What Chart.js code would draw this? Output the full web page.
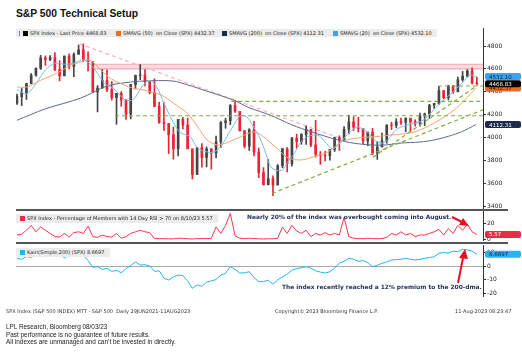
<!DOCTYPE html>
<html lang="en">
<head>
<meta charset="UTF-8" />
<title>S&amp;P 500 Technical Setup</title>
<script src="https://cdn.jsdelivr.net/npm/chart.js"></script>
<style>
  body { margin: 0; width: 522px; height: 360px; position: relative; overflow: hidden; background: #fff; font-family: "DejaVu Sans", sans-serif; color: #222; }
  .t { position: absolute; white-space: nowrap; line-height: 1; }
  canvas { position: absolute; left: 16px; }
  .box { position: absolute; background: #ececec; }
  .sq { position: absolute; width: 5px; height: 5px; }
  .lg { position: absolute; white-space: nowrap; line-height: 1; font-size: 5px; color: #222; }
  .sep { position: absolute; left: 16px; width: 492px; height: 2px; background: #555; }
  .note { position: absolute; white-space: nowrap; line-height: 1; font: bold 5.9px "DejaVu Sans", sans-serif; color: #1f2d55; }
  .foot { position: absolute; white-space: nowrap; line-height: 1; font-size: 5px; color: #333; }
  .src { position: absolute; white-space: nowrap; line-height: 1; font: 6.4px "Liberation Sans", sans-serif; color: #222; }
</style>
</head>
<body>
<div class="t" style="left:16px;top:8px;font:bold 10.3px 'Liberation Sans',sans-serif;color:#111">S&amp;P 500 Technical Setup</div>

<canvas id="mainChart" width="506" height="181" style="top:28px"></canvas>
<canvas id="rsiChart" width="506" height="30" style="top:211px"></canvas>
<canvas id="kairiChart" width="506" height="67" style="top:245px"></canvas>

<div class="sep" style="top:209px"></div>
<div class="sep" style="top:242px"></div>

<!-- main legend -->
<div class="box" style="left:16px;top:29px;width:421px;height:8px"></div>
<div class="sq" style="left:19px;top:30.5px;width:1px;background:#888"></div>
<div class="sq" style="left:23px;top:30.5px;background:#000"></div>
<div class="lg" style="left:30px;top:30.5px">SPX Index - Last Price 4468.83</div>
<div class="sq" style="left:116px;top:30.5px;background:#f26b1d"></div>
<div class="lg" style="left:123px;top:30.5px">SMAVG (50)&nbsp; on Close (SPX) 4432.37</div>
<div class="sq" style="left:222px;top:30.5px;background:#1c2a4f"></div>
<div class="lg" style="left:229px;top:30.5px">SMAVG (200)&nbsp; on Close (SPX) 4112.31</div>
<div class="sq" style="left:333px;top:30.5px;background:#3ea2ea"></div>
<div class="lg" style="left:340px;top:30.5px">SMAVG (20)&nbsp; on Close (SPX) 4532.10</div>

<!-- rsi legend -->
<div class="box" style="left:16px;top:214px;width:202px;height:9px"></div>
<div class="sq" style="left:20px;top:216px;background:#ee2b45"></div>
<div class="lg" style="left:27px;top:216px">SPX Index - Percentage of Members with 14 Day RSI &gt; 70 on 8/10/23 5.57</div>
<div class="note" style="left:247px;top:214px">Nearly 20% of the index was overbought coming into August.</div>

<!-- kairi legend -->
<div class="box" style="left:16px;top:248px;width:94px;height:9px"></div>
<div class="sq" style="left:20px;top:250px;background:#22b5f2"></div>
<div class="lg" style="left:27px;top:250px">Kairi(Simple,200) (SPX) 8.6697</div>
<div class="note" style="left:282px;top:284px">The index recently reached a 12% premium to the 200-dma.</div>

<svg width="522" height="360" style="position:absolute;left:0;top:0;pointer-events:none">
  <line x1="452" y1="217" x2="462" y2="222" stroke="#e8101e" stroke-width="2" />
  <polygon points="469,226 459,225 463,218" fill="#e8101e" />
  <line x1="458" y1="283" x2="463" y2="258" stroke="#e8101e" stroke-width="2" />
  <polygon points="465,249 459,258 468,259" fill="#e8101e" />
</svg>

<div class="foot" style="left:6px;top:309px">SPX Index (S&amp;P 500 INDEX) MTT - S&amp;P 500&nbsp; Daily 29JUN2021-11AUG2023</div>
<div class="foot" style="left:275px;top:309px">Copyright© 2023 Bloomberg Finance L.P.</div>
<div class="foot" style="left:455px;top:309px">11-Aug-2023 08:23:47</div>

<div class="src" style="left:6px;top:323px">LPL Research, Bloomberg 08/03/23</div>
<div class="src" style="left:6px;top:330.5px">Past performance is no guarantee of future results.</div>
<div class="src" style="left:6px;top:338px">All indexes are unmanaged and can’t be invested in directly.</div>

<script>
    // weekly bars, week 0 = week ending 1 Oct 2021, week 97 = 10 Aug 2023
    const weekHigh = [4380, 4429, 4475, 4559, 4608, 4718, 4714, 4717, 4743, 4672,
        4713, 4731, 4740, 4808, 4819, 4749, 4664, 4453, 4595, 4591,
        4490, 4385, 4402, 4331, 4465, 4546, 4637, 4593, 4471, 4513,
        4308, 4307, 4082, 4091, 4158, 4177, 4169, 3837, 3913, 3946,
        3918, 3904, 4013, 4140, 4167, 4288, 4325, 4203, 4062, 4077,
        4140, 3908, 3736, 3807, 3664, 3762, 3906, 3912, 4001, 4028,
        4034, 4101, 4052, 4150, 3877, 3878, 3893, 4003, 4015, 4094,
        4195, 4182, 4176, 4066, 4048, 4079, 3964, 4039, 4110, 4133,
        4164, 4169, 4170, 4167, 4155, 4213, 4213, 4290, 4299, 4448,
        4409, 4458, 4456, 4528, 4578, 4594, 4608, 4528];
    const weekLow = [4288, 4279, 4332, 4469, 4537, 4595, 4630, 4672, 4585, 4495,
        4540, 4600, 4531, 4733, 4662, 4582, 4395, 4223, 4432, 4401,
        4327, 4115, 4273, 4157, 4162, 4424, 4506, 4450, 4381, 4268,
        4124, 4062, 3859, 3810, 3838, 4074, 3900, 3637, 3705, 3739,
        3742, 3722, 3821, 3912, 4080, 4112, 4219, 4057, 3907, 3886,
        3838, 3648, 3584, 3585, 3491, 3647, 3735, 3698, 3749, 3906,
        3940, 3938, 3919, 3828, 3765, 3794, 3802, 3877, 3886, 3968,
        4031, 4060, 4048, 3944, 3928, 3847, 3808, 3918, 3949, 4069,
        4086, 4113, 4049, 4048, 4099, 4098, 4103, 4166, 4253, 4288,
        4337, 4328, 4385, 4400, 4491, 4528, 4465, 4464];
    const weekClose = [4357, 4391, 4471, 4545, 4605, 4697, 4682, 4698, 4595, 4538,
        4712, 4621, 4726, 4766, 4677, 4663, 4398, 4432, 4501, 4419,
        4349, 4385, 4329, 4204, 4463, 4543, 4546, 4488, 4392, 4272,
        4132, 4123, 4024, 3901, 4158, 4109, 3901, 3675, 3912, 3825,
        3899, 3863, 3962, 4130, 4145, 4280, 4228, 4058, 3924, 4067,
        3873, 3693, 3586, 3640, 3583, 3753, 3901, 3771, 3993, 3965,
        4026, 4072, 3934, 3852, 3845, 3840, 3895, 3999, 3973, 4071,
        4136, 4090, 4079, 3970, 4046, 3862, 3917, 3971, 4109, 4105,
        4138, 4133, 4169, 4136, 4124, 4192, 4205, 4282, 4299, 4410,
        4348, 4450, 4399, 4505, 4536, 4582, 4478, 4469];
    const firstOpen = 4300;

    // moving averages: [week, level]
    const sma20 = [[0, 4420], [2, 4380], [4, 4470], [6, 4590], [8, 4650], [10, 4640], [12, 4650], [14, 4680],
        [15.5, 4640], [17, 4560], [18.5, 4470], [20.3, 4430], [22.8, 4330], [24.5, 4330], [26.5, 4450], [28, 4500],
        [29.5, 4440], [31, 4300], [33, 4130], [34.5, 4040], [36.5, 4010], [38, 3910], [39.5, 3880], [41.4, 3870],
        [43, 3920], [44.3, 4010], [45.6, 4100], [47.1, 4190], [48.5, 4180], [49.8, 4100], [51.3, 3990], [52.5, 3860],
        [53.6, 3740], [55.7, 3710], [57.2, 3790], [58.5, 3860], [59.9, 3960], [61.5, 4010], [63.5, 4020], [65, 3960],
        [66.5, 3900], [67.7, 3930], [69.8, 4030], [71.9, 4090], [74.1, 4040], [75.3, 3980], [77, 3950], [78.5, 3990],
        [80, 4070], [82.5, 4110], [85.2, 4140], [87, 4200], [88.5, 4270], [90.9, 4360], [92.5, 4420], [94, 4480],
        [95.5, 4545], [96.8, 4532]];
    const sma50 = [[0, 4441], [2.1, 4441], [5, 4500], [8.5, 4564], [11.4, 4634], [13.5, 4660], [14.8, 4678], [16, 4660],
        [17.7, 4590], [20, 4510], [22.6, 4459], [24.5, 4430], [26.8, 4415], [28.1, 4398], [30.5, 4370], [33, 4300],
        [35.9, 4213], [38, 4100], [40.1, 3978], [42.2, 3934], [44, 3950], [45.6, 3978], [47.1, 4004], [49.8, 4048],
        [51.5, 4021], [53.6, 3950], [55.5, 3880], [57.2, 3820], [59.9, 3803], [62.5, 3830], [65.6, 3873], [68.4, 3960],
        [71, 3990], [74.7, 4004], [78.9, 4021], [83.8, 4048], [88, 4126], [92.2, 4240], [94.5, 4330], [96.8, 4432]];
    const sma200 = [[0, 4150], [6, 4250], [13.5, 4345], [19, 4450], [23, 4480], [26.8, 4494], [32.9, 4494], [36, 4460],
        [40, 4406], [45.6, 4328], [49, 4260], [53.4, 4196], [58, 4110], [62, 4050], [67.7, 3978], [71, 3950],
        [74.7, 3934], [78, 3935], [81, 3951], [85, 3960], [88, 3978], [91, 4010], [93.7, 4048], [96.8, 4112]];

    // drawn levels: [fromWeek, toWeek, level] and trend lines [[week, level], [week, level]]
    const resistBand = [15.8, 98.3, 4600, 4640];
    const supportLevels = [[45.2, 98.3, 4315], [20.7, 98.3, 4190], [88.8, 98.3, 4450]];
    const upTrends = [[[53.8, 3510], [98.3, 4242]], [[75.1, 3826], [97.3, 4460]]];
    const downTrend = [[13.1, 4820], [67.7, 4000]];

    // lower panels, one value per week
    const rsiPct = [5, 6, 11, 17, 9, 15, 11, 7, 3, 2.5,
        7, 2.5, 8, 9, 7, 16, 3, 2, 5, 3,
        2.5, 7, 1, 3, 7, 9, 11, 9, 8, 0.5,
        0.5, 0.3, 0.2, 0.2, 1, 0.8, 0.3, 0, 0.5, 0.4,
        0.6, 0.8, 15, 7, 17, 32, 4, 1, 0.5, 1,
        0.6, 0.2, 0, 0.3, 0.2, 1, 15, 7, 17, 10,
        7, 11, 3, 7, 5, 8, 5, 7, 5, 27,
        3, 1, 0.5, 0.3, 1, 0.5, 0.3, 0.6, 2, 7,
        5, 9, 5, 7, 3, 5, 5, 7, 9, 12,
        5, 13, 7, 17, 11, 18.5, 9, 5.57];
    const kairiPct = [5.7, 5, 7, 6.4, 8, 9, 6.9, 9, 7, 9,
        6, 8, 9.5, 10.6, 8, 4, -1, -0.5, -2.5, -1.7,
        -4, -3.2, -5, -2, 0.5, 3, 0.7, 1, 0, -4,
        -3.5, -9, -10.4, -8, -6.7, -7, -11, -16.5, -14, -15,
        -12, -11, -10, -6.7, -5.4, -0.5, -2.5, -5.2, -5, -4.2,
        -8.5, -11.6, -11.5, -10.5, -13.5, -10.2, -8, -6, -3, -2,
        -1.2, -0.5, -1.7, -3.5, -4.5, -5.2, -4.2, -1.5, 2, 3.5,
        5.7, 5, 3.5, 4, 2.5, -0.5, 0.5, 2, 3, 4.4,
        4.8, 5, 5.7, 5, 4.5, 5, 5.7, 6.3, 6.8, 9.4,
        10, 9.6, 11, 10.6, 12.4, 11.9, 11, 8.67];

    const priceTicks = [3400, 3600, 3800, 4000, 4200, 4400, 4600, 4800];
    const rsiTicks = [0, 20];
    const kairiTicks = [-20, -10, 0, 10];
    const monthTicks = [10.1, 23.2, 35.9, 49.6, 62.5, 75.3, 88.6];
    const monthLabels = ['Dec', 'Mar', 'Jun', 'Sep', 'Dec', 'Mar', 'Jun'];
    const yearTicks = [6.1, 38.6, 81.4];
    const yearLabels = ['2021', '2022', '2023'];

    const lastPrice = 4468.83, lastSma50 = 4432.37, lastSma200 = 4112.31, lastSma20 = 4532.10;
    const lastRsi = 5.57, lastKairi = 8.6697;

    Chart.defaults.font.family = 'DejaVu Sans';
    Chart.defaults.animation = false;

    const upColor = '#454545';
    const downColor = '#ee2233';
    const green = '#7fae3e';

    // last-value tags on the right axis
    const valueTags = {
        id: 'valueTags',
        afterDraw(chart, args, opts) {
            const { ctx, chartArea, scales } = chart;
            ctx.save();
            ctx.font = '5.5px "DejaVu Sans"';
            ctx.textBaseline = 'middle';
            (opts.tags || []).forEach(tag => {
                const y = scales.y.getPixelForValue(tag.value);
                const x = chartArea.right + 2;
                ctx.fillStyle = tag.bg;
                ctx.beginPath();
                ctx.roundRect(x, y - 3.5, 36, 7, 2);
                ctx.fill();
                ctx.fillStyle = tag.fg;
                ctx.fillText(tag.text, x + 4, y + 0.5);
            });
            ctx.restore();
        }
    };

    const xHidden = { type: 'linear', min: -0.2, max: 98.3, offset: false, display: false };

    function rightAxis(min, max, tickValues, gridColor) {
        return {
            position: 'right', min, max,
            afterBuildTicks: s => { s.ticks = tickValues.map(v => ({ value: v })); },
            grid: {
                drawOnChartArea: !!gridColor,
                color: gridColor || '#333',
                drawTicks: true, tickLength: 3, tickColor: '#333'
            },
            border: { display: true, color: '#333' },
            ticks: {
                padding: 1, color: '#222', font: { size: 6 },
                callback: v => String(v)
            },
            afterFit: s => { s.width = 39; s.paddingTop = 0; s.paddingBottom = 0; }
        };
    }

    function segment(points, color, dash, order) {
        return {
            type: 'line', data: points.map(p => ({ x: p[0], y: p[1] })),
            borderColor: color, borderWidth: 1.2, borderDash: dash,
            pointRadius: 0, fill: false, order
        };
    }

    function maLine(points, color, order) {
        return {
            type: 'line', data: points.map(p => ({ x: p[0], y: p[1] })),
            borderColor: color, borderWidth: 1, pointRadius: 0, tension: 0.3, fill: false, order
        };
    }

    const weeks = weekClose.map((c, i) => i);
    const weekOpen = weekClose.map((c, i) => i === 0 ? firstOpen : weekClose[i - 1]);
    const candleColor = weekClose.map((c, i) => c >= weekOpen[i] ? upColor : downColor);

    const mainDatasets = [
        {
            type: 'line',
            data: [{ x: resistBand[0], y: resistBand[3] }, { x: resistBand[1], y: resistBand[3] }],
            borderColor: 'rgba(240,140,150,0.7)', borderWidth: 1, pointRadius: 0,
            backgroundColor: 'rgba(250,180,188,0.45)', fill: { value: resistBand[2] }, order: 20
        },
        segment([[resistBand[0], resistBand[2]], [resistBand[1], resistBand[2]]], 'rgba(240,140,150,0.7)', [], 19),
        segment(downTrend, '#f6b3bb', [4, 3], 18),
        {
            type: 'bar', data: weeks.map(i => ({ x: i, y: [weekLow[i], weekHigh[i]] })),
            backgroundColor: candleColor, barThickness: 1, grouped: false, order: 10
        },
        {
            type: 'bar', data: weeks.map(i => ({ x: i, y: [weekOpen[i], weekClose[i]] })),
            backgroundColor: candleColor, barThickness: 2, grouped: false, order: 9
        },
        maLine(sma200, '#5b6b8c', 5),
        maLine(sma50, '#f6a36e', 4),
        maLine(sma20, '#74bdf0', 3)
    ];
    supportLevels.forEach(l => mainDatasets.push(segment([[l[0], l[2]], [l[1], l[2]]], green, [4, 3], 1)));
    upTrends.forEach(t => mainDatasets.push(segment(t, green, [4, 3], 1)));

    new Chart(document.getElementById('mainChart'), {
        type: 'bar',
        data: { datasets: mainDatasets },
        options: {
            responsive: false,
            layout: { padding: 0 },
            events: [],
            scales: { x: xHidden, y: rightAxis(3374, 4957.5, priceTicks) },
            plugins: {
                legend: { display: false },
                tooltip: { enabled: false },
                valueTags: {
                    tags: [
                        { value: lastSma20, text: lastSma20.toFixed(2), bg: '#3ea2ea', fg: '#0d1a33' },
                        { value: lastSma50, text: lastSma50.toFixed(2), bg: '#f26b1d', fg: '#1a1a1a' },
                        { value: lastPrice, text: lastPrice.toFixed(2), bg: '#000', fg: '#fff' },
                        { value: lastSma200, text: lastSma200.toFixed(2), bg: '#1c2a4f', fg: '#fff' }
                    ]
                }
            }
        },
        plugins: [valueTags]
    });

    new Chart(document.getElementById('rsiChart'), {
        type: 'line',
        data: {
            datasets: [{
                data: weeks.map(i => ({ x: i, y: rsiPct[i] })),
                borderColor: '#ff3350', borderWidth: 1, pointRadius: 0, fill: false
            }]
        },
        options: {
            responsive: false,
            layout: { padding: 0 },
            events: [],
            scales: { x: xHidden, y: rightAxis(-2.5, 35, rsiTicks) },
            plugins: {
                legend: { display: false },
                tooltip: { enabled: false },
                valueTags: { tags: [{ value: lastRsi, text: lastRsi.toFixed(2), bg: '#ee2b45', fg: '#fff' }] }
            }
        },
        plugins: [valueTags]
    });

    const kairiY = rightAxis(-22.2, 15.56, kairiTicks, c => (c.tick && c.tick.value === 0) ? '#a8a8a8' : 'rgba(0,0,0,0)');

    new Chart(document.getElementById('kairiChart'), {
        type: 'line',
        data: {
            datasets: [{
                data: weeks.map(i => ({ x: i, y: kairiPct[i] })),
                borderColor: '#22b5f2', borderWidth: 1, pointRadius: 0, fill: false
            }]
        },
        options: {
            responsive: false,
            layout: { padding: 0 },
            events: [],
            scales: {
                x: {
                    type: 'linear', min: -0.2, max: 98.3, offset: false, position: 'bottom',
                    grid: { display: false }, border: { display: false },
                    afterBuildTicks: s => { s.ticks = monthTicks.map(v => ({ value: v })); },
                    ticks: {
                        autoSkip: false, maxRotation: 0, padding: 1, color: '#333', font: { size: 5.5 },
                        callback: (v, i) => monthLabels[i]
                    },
                    afterFit: s => { s.height = 9; s.paddingLeft = 0; s.paddingRight = 0; }
                },
                x2: {
                    type: 'linear', min: -0.2, max: 98.3, offset: false, position: 'bottom',
                    grid: { display: false }, border: { display: false },
                    afterBuildTicks: s => { s.ticks = yearTicks.map(v => ({ value: v })); },
                    ticks: {
                        autoSkip: false, maxRotation: 0, padding: 0, color: '#333', font: { size: 5.5 },
                        callback: (v, i) => yearLabels[i]
                    },
                    afterFit: s => { s.height = 7; s.paddingLeft = 0; s.paddingRight = 0; }
                },
                y: kairiY
            },
            plugins: {
                legend: { display: false },
                tooltip: { enabled: false },
                valueTags: { tags: [{ value: lastKairi, text: lastKairi.toFixed(4), bg: '#28b4f0', fg: '#0d1a33' }] }
            }
        },
        plugins: [valueTags]
    });
</script>
</body>
</html>
